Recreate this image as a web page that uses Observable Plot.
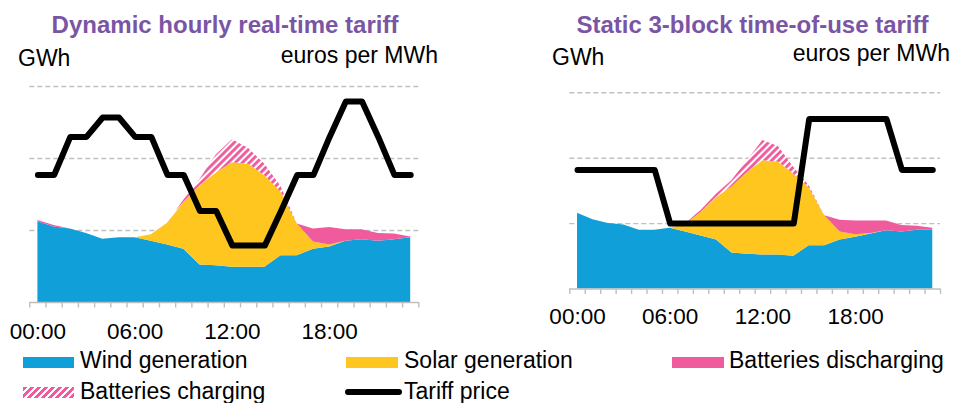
<!DOCTYPE html>
<html>
<head>
<meta charset="utf-8">
<script src="https://cdn.jsdelivr.net/npm/d3@7"></script>
<script src="https://cdn.jsdelivr.net/npm/@observablehq/plot@0.6"></script>
<style>
  body { margin: 0; background: #fff; font-family: "Liberation Sans", Arial, sans-serif; }
  #root { position: relative; width: 955px; height: 403px; overflow: hidden; background: #fff; }
  .t { position: absolute; white-space: nowrap; line-height: 1; color: #000; }
  .title { font-weight: bold; color: #7a55a5; font-size: 24px; }
  .sw { position: absolute; }
  .panel { position: absolute; top: 0; }
</style>
</head>
<body>
<div id="root">
  <svg width="0" height="0" style="position:absolute">
    <defs>
      <pattern id="hatch" patternUnits="userSpaceOnUse" width="5" height="5" patternTransform="rotate(45)">
        <rect width="5" height="5" fill="#ffffff"></rect>
        <rect width="2.9" height="5" fill="#ef5b9c"></rect>
      </pattern>
    </defs>
  </svg>
</div>
<script>
// ---------- data ----------
const hours = [0,1,2,3,4,5,6,7,8,9,10,11,12,13,14,15,16,17,18,19,20,21,22,23];
const tickHours = [0, 6, 12, 18];
const tickLabels = ["00:00", "06:00", "12:00", "18:00"];
const tickEdges = [-0.5,0.5,1.5,2.5,3.5,4.5,5.5,6.5,7.5,8.5,9.5,10.5,11.5,12.5,13.5,14.5,15.5,16.5,17.5,18.5,19.5,20.5,21.5,22.5,23.5];
const gridLevels = [1, 2, 3];

const seriesNames = ["Wind generation", "Solar generation", "Batteries discharging", "Batteries charging"];
const seriesFills = ["#119fd9", "#fec61f", "#ef5b9c", "url(#hatch)"];

// Dynamic hourly real-time tariff (GWh, relative units)
const dynWind      = [1.12,1.05,1.02,0.96,0.88,0.90,0.90,0.85,0.80,0.74,0.52,0.51,0.49,0.49,0.49,0.65,0.65,0.74,0.77,0.85,0.87,0.85,0.87,0.90];
const dynSolar     = [0,0,0,0,0,0,0,0.09,0.30,0.65,1.10,1.29,1.45,1.43,1.27,0.88,0.44,0.10,0.03,0,0,0,0,0];
const dynDischarge = [0.02,0.02,0,0,0,0,0,0,0,0,0,0,0,0,0,0,0,0.18,0.24,0.16,0.14,0.11,0.08,0.01];
const dynCharge    = [0,0,0,0,0,0,0,0,0,0.03,0.09,0.25,0.32,0.22,0.16,0.08,0,0,0,0,0,0,0,0];
const dynPrice     = [1.77,1.77,2.30,2.30,2.57,2.57,2.30,2.30,1.77,1.77,1.27,1.27,0.79,0.79,0.79,1.27,1.77,1.77,2.30,2.79,2.79,2.30,1.77,1.77];

// Static 3-block time-of-use tariff
const touWind      = [1.16,1.06,1.00,0.98,0.90,0.90,0.93,0.87,0.81,0.75,0.55,0.53,0.52,0.52,0.50,0.66,0.66,0.75,0.79,0.84,0.89,0.87,0.90,0.90];
const touSolar     = [0,0,0,0,0,0,0,0.12,0.36,0.65,1.01,1.25,1.44,1.42,1.26,0.89,0.46,0.12,0.04,0.01,0,0,0,0];
const touDischarge = [0,0,0,0,0,0,0,0,0,0,0,0,0,0,0,0,0,0.18,0.21,0.19,0.15,0.10,0.06,0.03];
const touCharge    = [0,0,0,0,0,0,0,0.01,0.03,0.05,0.10,0.18,0.31,0.24,0.10,0.03,0,0,0,0,0,0,0,0];
const touPrice     = [1.82,1.82,1.82,1.82,1.82,1.82,1.00,1.00,1.00,1.00,1.00,1.00,1.00,1.00,1.00,2.60,2.60,2.60,2.60,2.60,2.60,1.82,1.82,1.82];

// ---------- helpers ----------
const root = document.getElementById("root");
const FONT = '"Liberation Sans", Arial, sans-serif';

function rowsFrom(wind, solar, dis, chg) {
  const cols = [wind, solar, dis, chg];
  const rows = [];
  seriesNames.forEach((s, k) => hours.forEach((h, i) => rows.push({hour: h, series: s, value: cols[k][i]})));
  return rows;
}

function panel({wind, solar, dis, chg, price, left, width, height, mL, mR, mT, mB, pad}) {
  const rows = rowsFrom(wind, solar, dis, chg);
  const priceRows = hours.map((h, i) => ({hour: h, price: price[i]}));
  const chart = Plot.plot({
    width, height,
    marginLeft: mL, marginRight: mR, marginTop: mT, marginBottom: mB,
    x: {domain: [-0.5, 23.5], label: null},
    y: {domain: [0, 3], axis: null, label: null},
    color: {domain: seriesNames, range: seriesFills},
    style: {fontFamily: FONT, fontSize: "22.5px", color: "#000", background: "transparent", overflow: "visible"},
    marks: [
      Plot.ruleY(gridLevels, {stroke: "#c0c0c0", strokeWidth: 1.4, strokeDasharray: "5,3"}),
      Plot.areaY(rows, {x: "hour", y: "value", z: "series", fill: "series", order: seriesNames}),
      Plot.ruleY([0], {stroke: "#bfbfbf", strokeWidth: 1.6}),
      Plot.axisX(tickEdges, {tickSize: 5.5, tickFormat: () => "", label: null, stroke: "#bfbfbf", strokeWidth: 1.4, strokeOpacity: 1}),
      Plot.axisX(tickHours, {tickSize: 0, tickPadding: pad, label: null, tickFormat: d => tickLabels[tickHours.indexOf(d)], fill: "#000", fontSize: 22.5}),
      Plot.lineY(priceRows, {x: "hour", y: "price", stroke: "#000", strokeWidth: 6, strokeLinecap: "round", strokeLinejoin: "round"})
    ]
  });
  chart.classList.add("panel");
  chart.style.left = left + "px";
  chart.style.position = "absolute";
  chart.style.top = "0px";
  root.appendChild(chart);
}

function text(str, {x, right, baseline, size = 23, cls = "t", center = false}) {
  const d = document.createElement("div");
  d.className = cls === "t" ? "t" : "t " + cls;
  d.textContent = str;
  d.style.fontSize = size + "px";
  d.style.top = (baseline - 0.8465 * size) + "px";
  if (center) {
    d.style.left = x + "px";
    d.style.transform = "translateX(-50%)";
  } else if (right !== undefined) {
    d.style.right = (955 - right) + "px";
  } else {
    d.style.left = x + "px";
  }
  root.appendChild(d);
}

function swatch({x, y, w, h, bg, radius = 0}) {
  const d = document.createElement("div");
  d.className = "sw";
  Object.assign(d.style, {left: x + "px", top: y + "px", width: w + "px", height: h + "px", background: bg, borderRadius: radius + "px"});
  root.appendChild(d);
  return d;
}

// ---------- panels ----------
panel({wind: dynWind, solar: dynSolar, dis: dynDischarge, chg: dynCharge, price: dynPrice,
       left: 0, width: 470, height: 350, mL: 29.3, mR: 51.7, mT: 86, mB: 48, pad: 21});
panel({wind: touWind, solar: touSolar, dis: touDischarge, chg: touCharge, price: touPrice,
       left: 520, width: 435, height: 350, mL: 49.3, mR: 15, mT: 92.3, mB: 61.5, pad: 19});

// ---------- titles & unit labels ----------
text("Dynamic hourly real-time tariff", {x: 225, baseline: 33.3, size: 24, cls: "title", center: true});
text("Static 3-block time-of-use tariff", {x: 752.5, baseline: 33.3, size: 24, cls: "title", center: true});
text("GWh", {x: 18, baseline: 66.7});
text("euros per MWh", {right: 438, baseline: 63.3});
text("GWh", {x: 552, baseline: 65});
text("euros per MWh", {right: 950, baseline: 61.7});

// ---------- legend ----------
swatch({x: 22.7, y: 357.3, w: 51.6, h: 11, bg: seriesFills[0]});
text(seriesNames[0], {x: 80, baseline: 368.3});
swatch({x: 346, y: 357.3, w: 51.7, h: 11, bg: seriesFills[1]});
text(seriesNames[1], {x: 404, baseline: 368.3});
swatch({x: 672, y: 357.3, w: 51.7, h: 11, bg: seriesFills[2]});
text(seriesNames[2], {x: 729, baseline: 368.3});
swatch({x: 22.7, y: 386.7, w: 51.6, h: 11.6, bg: "repeating-linear-gradient(135deg, #ef5b9c 0px, #ef5b9c 2.9px, #ffffff 2.9px, #ffffff 5px)"});
text(seriesNames[3], {x: 80, baseline: 399.3});
swatch({x: 345, y: 388.7, w: 56.7, h: 6, bg: "#000", radius: 3});
text("Tariff price", {x: 404, baseline: 399.3});
</script>
</body>
</html>
